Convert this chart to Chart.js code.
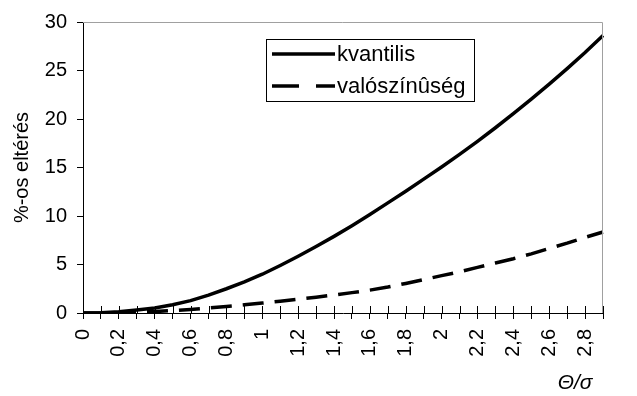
<!DOCTYPE html>
<html>
<head>
<meta charset="utf-8">
<script src="https://cdn.jsdelivr.net/npm/chart.js@4.4.1/dist/chart.umd.min.js"></script>
<style>
  html, body { margin: 0; padding: 0; background: #fff; }
  #wrap { position: relative; width: 637px; height: 396px; }
</style>
</head>
<body>
<div id="wrap"><canvas id="chart"></canvas></div>
<script>
// Theta/sigma categories, step 0.1
const thetaLabels = ['0', '0,1', '0,2', '0,3', '0,4', '0,5', '0,6', '0,7', '0,8', '0,9',
  '1', '1,1', '1,2', '1,3', '1,4', '1,5', '1,6', '1,7', '1,8', '1,9',
  '2', '2,1', '2,2', '2,3', '2,4', '2,5', '2,6', '2,7', '2,8', '2,9'];

const kvantilis = [0, 0.03, 0.12, 0.3, 0.52, 0.85, 1.28, 1.85, 2.5, 3.2,
  4.0, 4.9, 5.85, 6.85, 7.9, 9.0, 10.15, 11.35, 12.55, 13.8,
  15.05, 16.35, 17.7, 19.1, 20.55, 22.05, 23.6, 25.2, 26.85, 28.6];

const valoszinuseg = [0, 0.01, 0.03, 0.08, 0.15, 0.25, 0.37, 0.51, 0.67, 0.84,
  1.02, 1.21, 1.42, 1.63, 1.86, 2.1, 2.36, 2.68, 3.05, 3.45,
  3.85, 4.25, 4.7, 5.15, 5.6, 6.1, 6.65, 7.2, 7.8, 8.35];

const FONT = "'Liberation Sans', Arial, sans-serif";

// gray frame on top and right of the plot area, plus ticks crossing the x axis
const plotFrame = {
  id: 'plotFrame',
  afterDraw(chart) {
    const { ctx, chartArea: a } = chart;
    ctx.save();
    ctx.strokeStyle = '#a0a0a0';
    ctx.lineWidth = 1;
    ctx.beginPath();
    ctx.moveTo(a.left, a.top + 0.5);
    ctx.lineTo(a.right - 0.5, a.top + 0.5);
    ctx.lineTo(a.right - 0.5, a.bottom);
    ctx.stroke();

    const xs = chart.scales.x;
    ctx.strokeStyle = '#000';
    ctx.beginPath();
    xs.ticks.forEach((t, i) => {
      const px = Math.round(xs.getPixelForTick(i)) + 0.5;
      ctx.moveTo(px, a.bottom - 7);
      ctx.lineTo(px, a.bottom);
    });
    ctx.stroke();
    ctx.restore();
  },
};

// legend box drawn inside the plot area
const insideLegend = {
  id: 'insideLegend',
  afterDraw(chart) {
    const { ctx } = chart;
    const box = { x: 266, y: 39, w: 208, h: 62 };
    const rows = [54, 86];
    ctx.save();
    ctx.fillStyle = '#fff';
    ctx.fillRect(box.x, box.y, box.w, box.h);
    ctx.strokeStyle = '#000';
    ctx.lineWidth = 1;
    ctx.strokeRect(box.x + 0.5, box.y + 0.5, box.w, box.h);
    chart.data.datasets.forEach((ds, i) => {
      const y = rows[i];
      ctx.beginPath();
      ctx.lineWidth = 3.3;
      ctx.setLineDash(ds.borderDash && ds.borderDash.length ? [27, 17] : []);
      ctx.moveTo(272, y);
      ctx.lineTo(335, y);
      ctx.stroke();
      ctx.setLineDash([]);
      ctx.fillStyle = '#000';
      ctx.font = '22px ' + FONT;
      ctx.textBaseline = 'middle';
      ctx.textAlign = 'left';
      ctx.fillText(ds.label, 337, y + 1);
    });
    ctx.restore();
  },
};

const chart = new Chart(document.getElementById('chart'), {
  type: 'line',
  data: {
    labels: thetaLabels,
    datasets: [
      {
        label: 'kvantilis',
        data: kvantilis,
        borderColor: '#000',
        borderWidth: 3.5,
        pointRadius: 0,
        tension: 0,
      },
      {
        label: 'valószínûség',
        data: valoszinuseg,
        borderColor: '#000',
        borderWidth: 3.5,
        borderDash: [21, 11],
        pointRadius: 0,
        tension: 0,
      },
    ],
  },
  options: {
    responsive: true,
    maintainAspectRatio: false,
    animation: false,
    layout: {
      padding: { top: 19, right: 0, left: 0, bottom: 0 },
    },
    plugins: {
      legend: { display: false },
      tooltip: { enabled: false },
    },
    scales: {
      x: {
        type: 'category',
        offset: false,
        grid: {
          drawOnChartArea: false,
          tickLength: 6,
          color: '#000',
        },
        border: { color: '#000', width: 1 },
        ticks: {
          autoSkip: false,
          maxRotation: 90,
          minRotation: 90,
          padding: 10,
          color: '#000',
          font: { family: FONT, size: 20 },
          callback(value, index) {
            return index % 2 === 0 && index < 29 ? this.getLabelForValue(value) : '';
          },
        },
        title: {
          display: true,
          text: 'Θ/σ\u2002',
          align: 'end',
          color: '#000',
          font: { family: FONT, size: 21, style: 'italic' },
          padding: { top: 0, bottom: 0 },
        },
        afterFit(scale) { scale.height = 83; },
      },
      y: {
        min: 0,
        max: 30,
        grid: {
          drawOnChartArea: false,
          tickLength: 6,
          color: '#000',
        },
        border: { color: '#000', width: 1 },
        ticks: {
          stepSize: 5,
          padding: 10,
          color: '#000',
          font: { family: FONT, size: 20 },
        },
        title: {
          display: true,
          text: '%-os eltérés',
          color: '#000',
          font: { family: FONT, size: 20 },
          padding: { top: 10, bottom: 0 },
        },
        afterFit(scale) { scale.width = 83; },
      },
    },
  },
  plugins: [plotFrame, insideLegend],
});
</script>
</body>
</html>
